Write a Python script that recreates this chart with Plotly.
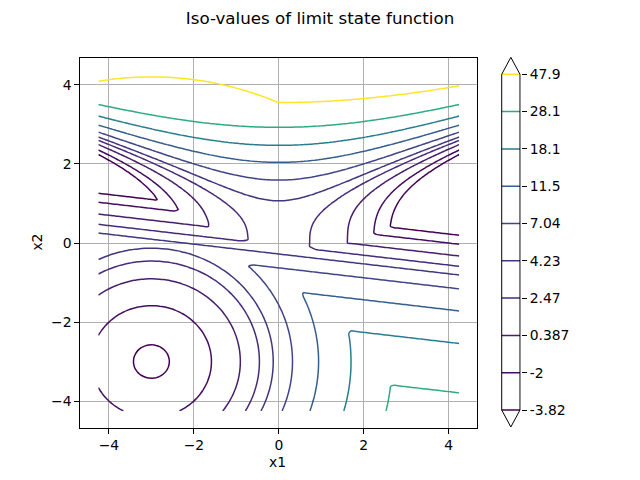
import numpy as np
import plotly.graph_objects as go
from plotly.colors import sample_colorscale

# ---- data -------------------------------------------------------------
levels = [-3.82, -2.0, 0.387, 2.47, 4.23, 7.04, 11.5, 18.1, 28.1, 47.9]
level_labels = ["-3.82", "-2", "0.387", "2.47", "4.23", "7.04", "11.5", "18.1", "28.1", "47.9"]
axis_ticks = [-4, -2, 0, 2, 4]
axis_tick_labels = ["\u22124", "\u22122", "0", "2", "4"]
bound = 4.25
n_points = 101
x1 = np.linspace(-bound, bound, n_points)
x2 = np.linspace(-bound, bound, n_points)


def limit_state(a, b):
    bowl = (a + 3.0) ** 2 + (b + 3.0) ** 2 - 4.0
    lower_wall = 2.0 - a - 8.0 * b
    upper_wall = b ** 3 - a ** 2 + 3.0
    return np.minimum(bowl, np.maximum(lower_wall, upper_wall))


X1, X2 = np.meshgrid(x1, x2)
Z = limit_state(X1, X2)

# ---- colours ----------------------------------------------------------
lo, hi = levels[0], levels[-1]
colors = sample_colorscale("Viridis", [(v - lo) / (hi - lo) for v in levels])

FONT = "DejaVu Sans"
W, H = 640, 480
fig = go.Figure()

for lv, c in zip(levels, colors):
    fig.add_trace(go.Contour(
        x=x1, y=x2, z=Z,
        autocontour=False,
        contours=dict(start=lv, end=lv, size=1, coloring="lines"),
        colorscale=[[0, c], [1, c]],
        showscale=False,
        line=dict(width=1.5),
        hoverinfo="skip",
        xaxis="x", yaxis="y",
    ))

# ---- manual colour bar ------------------------------------------------
tri = 0.455
n_lv = len(levels)
for k, c in enumerate(colors):
    fig.add_trace(go.Scatter(
        x=[0, 1], y=[k, k], mode="lines",
        line=dict(color=c, width=1.5),
        hoverinfo="skip", showlegend=False,
        xaxis="x2", yaxis="y2",
    ))
top = n_lv - 1
fig.add_trace(go.Scatter(
    x=[0, 0, 0.5, 1, 1, 0.5, 0],
    y=[0, top, top + tri, top, 0, -tri, 0],
    mode="lines", line=dict(color="black", width=1),
    hoverinfo="skip", showlegend=False,
    xaxis="x2", yaxis="y2",
))

ax_common = dict(
    tickvals=axis_ticks, ticktext=axis_tick_labels,
    ticks="outside", ticklen=5, tickwidth=1, tickcolor="black",
    showline=True, linecolor="black", linewidth=1, mirror=True,
    showgrid=True, gridcolor="#b0b0b0", gridwidth=1,
    zeroline=False,
    tickfont=dict(family=FONT, size=13.9, color="black"),
)

fig.update_layout(
    width=W, height=H,
    margin=dict(l=0, r=0, t=0, b=0),
    paper_bgcolor="white", plot_bgcolor="white",
    showlegend=False,
    font=dict(family=FONT, color="black"),
    title=dict(text="Iso-values of limit state function",
               x=0.5, xanchor="center", y=1 - 18 / H, yanchor="middle",
               font=dict(family=FONT, size=16.7, color="black")),
    xaxis=dict(domain=[80.3 / W, 477.3 / W], range=[-1.1 * bound, 1.1 * bound],
               anchor="y", **ax_common),
    yaxis=dict(domain=[1 - 427.7 / H, 1 - 58.3 / H], range=[-1.1 * bound, 1.1 * bound],
               anchor="x", **ax_common),
    xaxis2=dict(domain=[500.8 / W, 520.9 / W], range=[-0.05, 1.05], anchor="y2",
                visible=False),
    yaxis2=dict(domain=[1 - 428.65 / H, 1 - 55.65 / H], range=[-0.5, top + 0.5],
                anchor="x2", side="right",
                tickvals=list(range(n_lv)), ticktext=level_labels,
                ticks="outside", ticklen=5, tickwidth=1, tickcolor="black",
                showline=False, showgrid=False, zeroline=False,
                tickfont=dict(family=FONT, size=13.9, color="black")),
    annotations=[
        dict(text="x1", x=277.7 / W, y=1 - 461.7 / H, xref="paper", yref="paper",
             xanchor="center", yanchor="middle", showarrow=False,
             font=dict(family=FONT, size=13.9, color="black")),
        dict(text="x2", x=37 / W, y=1 - 242.6 / H, xref="paper", yref="paper",
             xanchor="center", yanchor="middle", showarrow=False, textangle=-90,
             font=dict(family=FONT, size=13.9, color="black")),
    ],
)

fig.write_html("out.html")
